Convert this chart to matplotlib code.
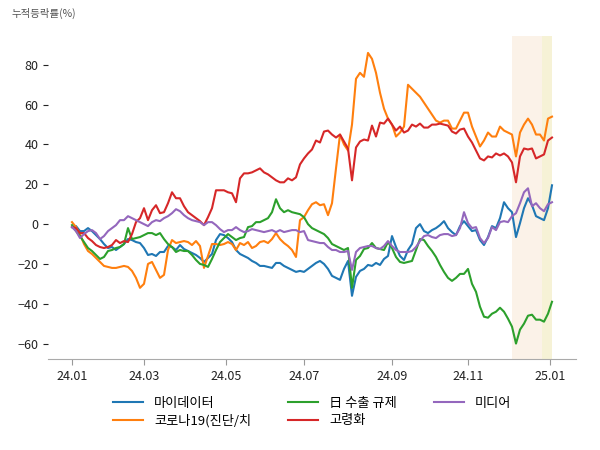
import numpy as np
import matplotlib
matplotlib.use("Agg")
import matplotlib.pyplot as plt

plt.rcParams['font.family'] = ['Noto Sans CJK KR', 'DejaVu Sans']

# trading-day index (every 2nd day from 24.01)
days = list(range(0, 241, 2))

tick_days = [0, 36, 77, 116, 160, 198, 239]
tick_labels = ["24.01", "24.03", "24.05", "24.07", "24.09", "24.11", "25.01"]

names = ["마이데이터", "코로나19(진단/치", "日 수출 규제", "고령화", "미디어"]

mydata = [-1.5, -1, -3.5, -3.5, -2, -3.5, -5.5, -7.5, -10, -12, -11.5, -13, -11.5, -10, -7.5, -8,
          -9, -9.5, -12, -15.5, -15, -16, -14, -14, -11, -11.5, -13, -10.5, -12.5, -13.5, -14.5,
          -15.5, -17, -19, -17, -15, -8, -5, -5.5, -7, -9, -13, -15, -16, -17, -18.5, -19.5, -21,
          -21, -21.5, -22, -19.5, -19.5, -21, -22, -23, -24, -23.5, -24, -22.5, -21, -19.5, -18.5,
          -20, -22.5, -26, -27, -28, -22.5, -18.5, -36, -26.5, -23.5, -22.5, -20.5, -21, -19.5,
          -20.5, -17.5, -16, -6, -11.5, -16, -18, -13, -10, -2, 0, -3.5, -4.5, -3, -2, -0.5, 1.5,
          -2, -4, -5.5, -1, 1.5, -1, -3.5, -3, -8, -10.5, -6.5, -1, -2, 3, 11, 8, 6, -6.5, 0.5, 8,
          13, 9.5, 4, 3, 2, 8, 19.5]

corona = [1, -1.5, -5, -10, -13.5, -15, -17, -19, -21, -21.5, -22, -22, -21.5, -21, -21.5, -23.5,
          -27, -32, -30, -20, -19, -23, -27, -25.5, -13, -8, -9.5, -9, -8.5, -9, -10.5, -8.5, -11,
          -22, -16, -10, -10, -10.5, -10, -9, -10, -13, -9.5, -10.5, -9, -12, -11, -9, -8.5, -9.5,
          -7.5, -4.5, -7.5, -9.5, -11, -13, -16.5, 2, 3.5, 7, 10, 11, 9.5, 10, 4.5, 10.5, 28, 45,
          40, 37, 50, 73, 76, 74, 86, 83, 76, 66, 58, 53, 50, 44, 46, 49, 70, 68, 66, 64, 61, 58,
          55, 52, 51, 52, 52, 48, 48, 52, 56, 56, 49, 44, 39, 42, 46, 44, 44, 49, 47, 46, 45, 34,
          46, 50, 53, 50, 45, 45, 42, 53, 54]

japan = [-0.5, -3.5, -6, -9, -12, -13.5, -15.5, -17.5, -16.5, -13.5, -13, -12, -11.5, -10, -2,
         -7.5, -7, -6.5, -5.5, -4.5, -4.5, -5.5, -4.5, -7.5, -10, -11.5, -14, -13, -13.5, -13.5,
         -15.5, -18, -20, -20.5, -21.5, -17.5, -13, -9, -7, -5, -6.5, -8, -7, -6.5, -1.5, -1, 1,
         1, 2, 3, 6, 12.5, 8, 6, 7, 6, 5.5, 5, 3.5, 0, -2, -3, -4, -5, -7, -10, -11, -12, -13,
         -12, -32, -18, -16, -12.5, -12, -9.5, -12, -12.5, -13, -9, -12, -16.5, -19, -19.5, -19,
         -18.5, -13, -7.5, -8, -11, -13.5, -16.5, -20.5, -24, -27, -28.5, -27, -25, -25, -22.5,
         -30, -34, -41.5, -46.5, -47, -45, -44, -42, -44, -47.5, -51.5, -60, -53, -50, -46, -45.5,
         -48, -48, -49, -45, -39]

aging = [-1.5, -2, -4.5, -4.5, -7, -8.5, -10.5, -11.5, -12, -11.5, -10.5, -8, -9.5, -8.5, -9, -5,
         1, 3, 8, 2, 7, 9.5, 5.5, 6, 10.5, 16, 13, 13, 9, 6, 4.5, 3, 1.5, -0.5, 3.5, 8, 17, 17, 17,
         16, 15.5, 11, 23, 25.5, 25.5, 26, 27, 28, 26, 25, 23.5, 22, 21, 21, 23, 22, 23.5, 30, 33,
         35.5, 37.5, 42, 41, 46.5, 47, 45, 43.5, 45, 41.5, 38, 22, 38.5, 41.5, 42.5, 42, 49.5, 44,
         51, 50.5, 53, 50, 47, 49, 46, 47, 50, 49, 50.5, 48.5, 48.5, 50, 50, 50.5, 50, 49.5, 46.5,
         45.5, 47.5, 48, 44, 41, 37, 33, 32, 34, 33.5, 35.5, 34.5, 35.5, 34, 31, 21, 34, 38, 37.5,
         38, 33, 34, 35, 42, 43.5]

media = [-1.5, -3.5, -7, -5, -3.5, -3, -4.5, -7.5, -6, -3.5, -2, -0.5, 2, 2, 4, 3, 2, 1, 0, -1, 1,
         2, 1.5, 3, 4, 5.5, 7.5, 6.5, 4.5, 3, 2, 1.5, 1, -0.5, 1, 1, -0.5, -2.5, -4, -3, -3, -1.5,
         -3, -4, -3.5, -2.5, -3, -3.5, -4, -3.5, -3, -4, -3, -4, -3.5, -3, -3, -4, -3.5, -8, -8.5,
         -9, -9.5, -9.5, -11.5, -13, -13, -14, -14, -13.5, -23, -14, -12, -11.5, -11, -11, -12,
         -12.5, -11, -8.5, -11, -13, -14, -14, -14, -13.5, -11.5, -8.5, -6, -5.5, -6.5, -7, -5.5,
         -5, -5, -6, -5.5, -2, 6, 0.5, -2, -1.5, -7, -9.5, -7, -1.5, -3, 1, 1.5, 1, 4, 5.5, 10.5,
         16, 18, 9, 10.5, 8, 6.5, 10, 11]

series = [mydata, corona, japan, aging, media]
colors = ['#1f77b4', '#ff7f0e', '#2ca02c', '#d62728', '#9467bd']

fig = plt.figure(figsize=(6, 4.5), dpi=100)
ax = fig.add_axes([0.08, 0.202, 0.88, 0.718])

# event periods
ax.axvspan(220, 235, color='#fbf2e8', lw=0, zorder=0)
ax.axvspan(235, 240, color='#f6f2d6', lw=0, zorder=0)

for name, vals, c in zip(names, series, colors):
    ax.plot(days, vals, color=c, lw=1.5, label=name)

ax.set_ylim(-67.8, 94.5)
ax.set_yticks([-60, -40, -20, 0, 20, 40, 60, 80])
ax.set_xticks(tick_days)
ax.set_xticklabels(tick_labels)
ax.tick_params(axis='both', labelsize=9, colors='#222222')
ax.tick_params(axis='x', color='#999999', length=4)

for s in ['top', 'right', 'left']:
    ax.spines[s].set_visible(False)
ax.spines['bottom'].set_color('#aaaaaa')

fig.text(0.02, 0.971, "누적등락률(%)", fontsize=7.5, color='#555555', va='center')

ax.legend(loc='upper center', bbox_to_anchor=(0.5, -0.08), ncol=3, frameon=False,
          fontsize=9.5, handlelength=2.3, columnspacing=2.8, labelspacing=0.35)

fig.savefig('out.png', dpi=100)
